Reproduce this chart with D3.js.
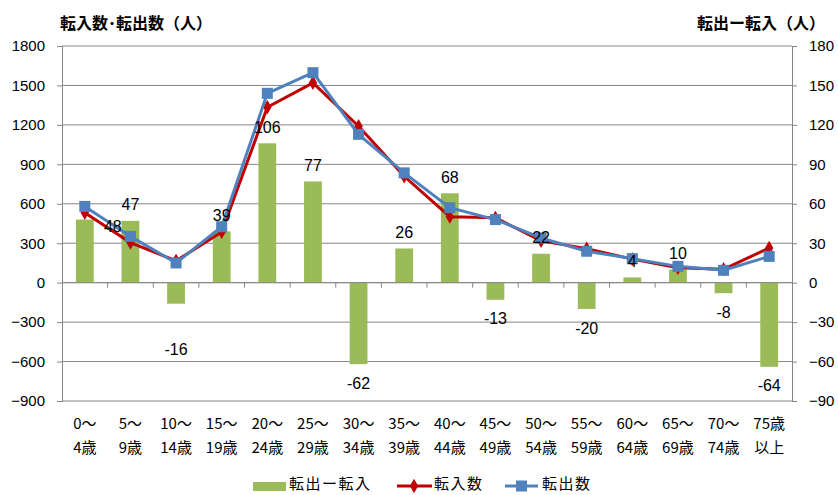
<!DOCTYPE html>
<html>
<head>
<meta charset="utf-8">
<script src="https://cdn.jsdelivr.net/npm/d3@7"></script>
<style>
  body { margin: 0; background: #fff; }
  text { font-family: "Liberation Sans", "Noto Sans CJK JP", sans-serif; fill: #000; }
</style>
</head>
<body>
<svg id="chart" width="838" height="495"></svg>
<script>
const ageTop = ['0～','5～','10～','15～','20～','25～','30～','35～','40～','45～','50～','55～','60～','65～','70～','75歳'];
const ageBottom = ['4歳','9歳','14歳','19歳','24歳','29歳','34歳','39歳','44歳','49歳','54歳','59歳','64歳','69歳','74歳','以上'];
const moveIn = [532, 305, 166, 386, 1334, 1520, 1190, 809, 502, 493, 318, 259, 179, 114, 102, 264];
const moveOut = [580, 352, 150, 425, 1440, 1597, 1128, 835, 570, 480, 340, 239, 183, 124, 94, 200];
const netOut = [48, 47, -16, 39, 106, 77, -62, 26, 68, -13, 22, -20, 4, 10, -8, -64];
const leftTicks = [-900, -600, -300, 0, 300, 600, 900, 1200, 1500, 1800];
const rightTicks = [-90, -60, -30, 0, 30, 60, 90, 120, 150, 180];

const svg = d3.select('#chart');
const plotL = 62, plotR = 792, plotT = 46, plotB = 401;
const grid = '#868686';
const jp = '"Noto Sans CJK JP", sans-serif';

const x = d3.scaleBand().domain(d3.range(ageTop.length)).range([plotL, plotR]);
const yL = d3.scaleLinear().domain([-900, 1800]).range([plotB, plotT]);
const yR = d3.scaleLinear().domain([-90, 180]).range([plotB, plotT]);
const cx = i => x(i) + x.bandwidth() / 2;

// gridlines
svg.append('g').selectAll('line').data(leftTicks).join('line')
  .attr('x1', plotL).attr('x2', plotR)
  .attr('y1', d => yL(d)).attr('y2', d => yL(d))
  .attr('stroke', grid).attr('stroke-width', 1);

// left axis
const axL = svg.append('g').attr('transform', `translate(${plotL},0)`)
  .call(d3.axisLeft(yL).tickValues(leftTicks).tickFormat(d3.format('d')).tickSize(5).tickPadding(12));
axL.select('.domain').attr('stroke', grid);
axL.selectAll('line').attr('stroke', grid);
axL.selectAll('text').attr('font-size', 15).attr('font-family', 'Liberation Sans');

// right axis
const axR = svg.append('g').attr('transform', `translate(${plotR},0)`)
  .call(d3.axisRight(yR).tickValues(rightTicks).tickFormat(d3.format('d')).tickSize(5).tickPadding(12));
axR.select('.domain').attr('stroke', grid);
axR.selectAll('line').attr('stroke', grid);
axR.selectAll('text').attr('font-size', 15).attr('font-family', 'Liberation Sans');

// bars
const barW = x.bandwidth() * 0.39;
svg.append('g').selectAll('rect').data(netOut).join('rect')
  .attr('x', (d, i) => cx(i) - barW / 2)
  .attr('width', barW)
  .attr('y', d => Math.min(yR(d), yR(0)))
  .attr('height', d => Math.abs(yR(d) - yR(0)))
  .attr('fill', '#9BBB59');

// zero axis with ticks
svg.append('line').attr('x1', plotL).attr('x2', plotR)
  .attr('y1', yL(0)).attr('y2', yL(0)).attr('stroke', grid);
svg.append('g').selectAll('line').data(d3.range(1, ageTop.length)).join('line')
  .attr('x1', i => x(i)).attr('x2', i => x(i))
  .attr('y1', yL(0)).attr('y2', yL(0) + 5)
  .attr('stroke', grid);

// lines
const line = d3.line().x((d, i) => cx(i)).y(d => yL(d));
svg.append('path').datum(moveIn)
  .attr('d', line)
  .attr('fill', 'none').attr('stroke', '#C00000').attr('stroke-width', 3);
svg.append('g').selectAll('path').data(moveIn).join('path')
  .attr('d', d3.symbol(d3.symbolDiamond, 60))
  .attr('transform', (d, i) => `translate(${cx(i)},${yL(d)})`)
  .attr('fill', '#C00000');

svg.append('path').datum(moveOut)
  .attr('d', line)
  .attr('fill', 'none').attr('stroke', '#4F81BD').attr('stroke-width', 3);
svg.append('g').selectAll('rect').data(moveOut).join('rect')
  .attr('x', (d, i) => cx(i) - 5.5).attr('y', d => yL(d) - 5.5)
  .attr('width', 11).attr('height', 11)
  .attr('fill', '#4F81BD');

// bar labels (two were nudged by hand in the original)
const nudge = { 0: [28, 23], 2: [0, 27] };
svg.append('g').selectAll('text').data(netOut).join('text')
  .attr('x', (d, i) => cx(i) + (nudge[i] ? nudge[i][0] : 0))
  .attr('y', (d, i) => (d >= 0 ? yR(d) - 16 : yR(d) + 19) + (nudge[i] ? nudge[i][1] : 0))
  .attr('dy', '0.35em')
  .attr('text-anchor', 'middle')
  .attr('font-size', 16)
  .text(d => d);

// x labels
svg.append('g').selectAll('text').data(ageTop).join('text')
  .attr('x', (d, i) => cx(i)).attr('y', 424).attr('dy', '0.35em')
  .attr('text-anchor', 'middle').attr('font-size', 15)
  .style('font-family', jp).text(d => d);
svg.append('g').selectAll('text').data(ageBottom).join('text')
  .attr('x', (d, i) => cx(i)).attr('y', 448).attr('dy', '0.35em')
  .attr('text-anchor', 'middle').attr('font-size', 15)
  .style('font-family', jp).text(d => d);

// titles
svg.append('text').attr('x', 60).attr('y', 23).attr('dy', '0.35em')
  .style('font-family', jp).attr('font-weight', 'bold').attr('font-size', 16)
  .text('転入数･転出数（人）');
svg.append('text').attr('x', 825).attr('y', 23).attr('dy', '0.35em').attr('text-anchor', 'end')
  .style('font-family', jp).attr('font-weight', 'bold').attr('font-size', 16)
  .text('転出ー転入（人）');

// legend
const lg = svg.append('g');
lg.append('rect').attr('x', 253).attr('y', 482).attr('width', 33).attr('height', 9).attr('fill', '#9BBB59');
lg.append('line').attr('x1', 397).attr('x2', 432).attr('y1', 486).attr('y2', 486)
  .attr('stroke', '#C00000').attr('stroke-width', 3);
lg.append('path').attr('d', d3.symbol(d3.symbolDiamond, 60)).attr('transform', 'translate(414,486)').attr('fill', '#C00000');
lg.append('line').attr('x1', 505).attr('x2', 538).attr('y1', 486).attr('y2', 486)
  .attr('stroke', '#4F81BD').attr('stroke-width', 3);
lg.append('rect').attr('x', 516).attr('y', 480.5).attr('width', 11).attr('height', 11).attr('fill', '#4F81BD');
const legendText = [['転出ー転入', 289], ['転入数', 434], ['転出数', 542]];
lg.selectAll('text').data(legendText).join('text')
  .attr('x', d => d[1]).attr('y', 484).attr('dy', '0.35em')
  .style('font-family', jp).attr('font-size', 15).attr('letter-spacing', 1.5)
  .text(d => d[0]);
</script>
</body>
</html>
